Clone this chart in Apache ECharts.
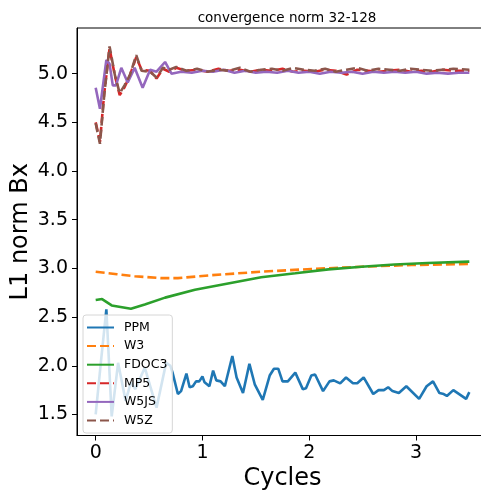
<!DOCTYPE html>
<html>
<head>
<meta charset="utf-8">
<script src="https://cdn.jsdelivr.net/npm/echarts@6/dist/echarts.min.js"></script>
<style>
  html, body { margin: 0; padding: 0; background: #fff; }
  #chart { width: 481px; height: 493px; }
</style>
</head>
<body>
<div id="chart"></div>
<script>
// values, [cycles, L1 norm]
const ppm = [
  [0, 1.50], [0.05, 2.05], [0.10, 2.58], [0.15, 1.48], [0.21, 2.03], [0.28, 1.64],
  [0.33, 1.83], [0.37, 1.76], [0.46, 1.98], [0.57, 1.57], [0.66, 2.03], [0.70, 2.0],
  [0.72, 1.93], [0.77, 1.71], [0.80, 1.74], [0.85, 1.92], [0.88, 1.78], [0.91, 1.79],
  [0.94, 1.84], [0.97, 1.84], [1.00, 1.89], [1.02, 1.83], [1.065, 1.79], [1.10, 1.95],
  [1.13, 1.85], [1.17, 1.84], [1.21, 1.79], [1.28, 2.10], [1.32, 1.88], [1.38, 1.72],
  [1.44, 2.02], [1.49, 1.81], [1.565, 1.65], [1.63, 1.90], [1.67, 1.97], [1.71, 1.97],
  [1.75, 1.84], [1.80, 1.84], [1.87, 1.93], [1.94, 1.76], [1.97, 1.77], [2.02, 1.90],
  [2.055, 1.91], [2.13, 1.74], [2.19, 1.84], [2.23, 1.85], [2.29, 1.82], [2.345, 1.88],
  [2.41, 1.82], [2.45, 1.82], [2.51, 1.88], [2.60, 1.71], [2.65, 1.75], [2.70, 1.75],
  [2.74, 1.78], [2.78, 1.74], [2.84, 1.72], [2.91, 1.79], [3.03, 1.66], [3.10, 1.79],
  [3.16, 1.84], [3.22, 1.72], [3.26, 1.71], [3.29, 1.69], [3.35, 1.75], [3.47, 1.66],
  [3.50, 1.73]
];
const w3 = [
  [0, 2.966], [0.2, 2.94], [0.365, 2.92], [0.61, 2.90], [0.77, 2.90], [1.08, 2.93],
  [1.55, 2.966], [2.02, 2.994], [2.49, 3.017], [2.96, 3.035], [3.5, 3.045]
];
const fdoc3 = [
  [0, 2.675], [0.06, 2.685], [0.15, 2.62], [0.33, 2.585], [0.46, 2.63], [0.65, 2.70],
  [0.93, 2.78], [1.24, 2.845], [1.55, 2.91], [1.87, 2.95], [2.18, 2.99], [2.49, 3.017],
  [2.80, 3.04], [3.11, 3.055], [3.5, 3.07]
];
const mp5 = [
  [0, 4.50], [0.04, 4.30], [0.08, 4.80], [0.13, 5.26], [0.18, 4.98], [0.225, 4.78],
  [0.27, 4.86], [0.32, 4.98], [0.38, 5.17], [0.43, 5.04], [0.51, 5.03], [0.57, 4.95],
  [0.63, 5.05], [0.69, 5.02], [0.755, 5.06], [0.85, 5.03], [0.95, 5.04], [1.05, 5.02],
  [1.15, 5.05], [1.25, 5.03], [1.35, 5.04], [1.45, 5.02], [1.55, 5.04], [1.65, 5.03],
  [1.75, 5.05], [1.85, 5.02], [1.95, 5.03], [2.05, 5.02], [2.15, 5.04], [2.25, 5.03],
  [2.35, 4.99], [2.45, 5.04], [2.55, 5.03], [2.65, 5.02], [2.75, 5.03], [2.85, 5.04],
  [2.95, 5.02], [3.05, 5.03], [3.15, 5.02], [3.25, 5.04], [3.35, 5.03], [3.5, 5.03]
];
const w5js = [
  [0, 4.856], [0.04, 4.64], [0.10, 5.14], [0.13, 5.10], [0.16, 4.88], [0.19, 4.88],
  [0.24, 5.06], [0.30, 4.91], [0.365, 5.06], [0.44, 4.856], [0.51, 5.04], [0.57, 5.02],
  [0.65, 5.12], [0.71, 5.00], [0.80, 5.02], [0.90, 5.01], [1.00, 5.03], [1.10, 5.02],
  [1.20, 5.04], [1.30, 5.01], [1.40, 5.03], [1.50, 5.01], [1.60, 5.02], [1.70, 5.01],
  [1.80, 5.03], [1.90, 5.01], [2.00, 5.02], [2.10, 5.00], [2.20, 5.02], [2.30, 5.01],
  [2.40, 5.02], [2.50, 5.00], [2.60, 5.02], [2.70, 5.01], [2.80, 5.02], [2.90, 5.01],
  [3.00, 5.02], [3.10, 5.00], [3.20, 5.01], [3.30, 5.00], [3.40, 5.01], [3.5, 5.01]
];
const w5z = [
  [0, 4.49], [0.04, 4.28], [0.08, 4.78], [0.13, 5.28], [0.18, 4.985], [0.225, 4.80],
  [0.27, 4.88], [0.32, 4.985], [0.38, 5.19], [0.43, 5.03], [0.51, 5.02], [0.57, 4.96],
  [0.63, 5.06], [0.69, 5.04], [0.755, 5.07], [0.85, 5.03], [0.95, 5.05], [1.05, 5.02],
  [1.15, 5.04], [1.25, 5.03], [1.35, 5.06], [1.45, 5.02], [1.55, 5.04], [1.65, 5.05],
  [1.75, 5.03], [1.85, 5.06], [1.95, 5.04], [2.05, 5.03], [2.15, 5.05], [2.25, 5.02],
  [2.35, 5.04], [2.45, 5.06], [2.55, 5.03], [2.65, 5.05], [2.75, 5.04], [2.85, 5.03],
  [2.95, 5.05], [3.05, 5.04], [3.15, 5.03], [3.25, 5.04], [3.35, 5.05], [3.5, 5.04]
];
const xTicks = [0, 1, 2, 3];
const yTicks = [1.5, 2.0, 2.5, 3.0, 3.5, 4.0, 4.5, 5.0];

const font = 'DejaVu Sans';

function line(name, data, color, dashed) {
  return {
    name: name,
    type: 'line',
    data: data,
    symbol: 'none',
    animation: false,
    lineStyle: { color: color, width: 2.6, type: dashed ? [9, 4] : 'solid' },
    itemStyle: { color: color }
  };
}

const chart = echarts.init(document.getElementById('chart'), null, { renderer: 'canvas' });
chart.setOption({
  animation: false,
  title: {
    text: 'convergence norm 32-128',
    left: 282, top: 6, textAlign: 'center',
    textStyle: { fontFamily: font, fontSize: 13.5, fontWeight: 'normal', color: '#000' }
  },
  grid: {
    left: 77, top: 28, right: -7, bottom: 57.5,
    outerBoundsMode: 'none', containLabel: false,
    show: true, borderColor: '#000', borderWidth: 1, backgroundColor: 'transparent'
  },
  legend: {
    orient: 'vertical',
    left: 83, top: 315,
    itemWidth: 27, itemHeight: 12, itemGap: 5.6,
    padding: [6, 5, 6, 3],
    backgroundColor: 'rgba(255,255,255,0.8)',
    borderColor: '#d6d6d6', borderWidth: 1, borderRadius: 3,
    itemStyle: { opacity: 0 },
    textStyle: { fontFamily: font, fontSize: 12.5, lineHeight: 12, color: '#000', padding: [0, 0, 0, 5] },
    data: ['PPM', 'W3', 'FDOC3', 'MP5', 'W5JS', 'W5Z']
  },
  xAxis: {
    type: 'value', min: -0.175, max: 3.675,
    name: 'Cycles', nameLocation: 'middle', nameGap: 31, nameMoveOverlap: false,
    nameTextStyle: { fontFamily: font, fontSize: 24, color: '#000' },
    axisLine: { onZero: false, lineStyle: { color: '#000', width: 1 } },
    axisTick: { show: true, length: 5, customValues: xTicks, lineStyle: { color: '#000' } },
    axisLabel: { customValues: xTicks, margin: 8, fontFamily: font, fontSize: 19, color: '#000' },
    splitLine: { show: false }
  },
  yAxis: {
    type: 'value', min: 1.284, max: 5.469,
    name: 'L1 norm Bx', nameLocation: 'middle', nameGap: 44, nameMoveOverlap: false,
    nameTextStyle: { fontFamily: font, fontSize: 24, color: '#000' },
    axisLine: { show: true, onZero: false, lineStyle: { color: '#000', width: 1 } },
    axisTick: { show: true, length: 5, customValues: yTicks, lineStyle: { color: '#000' } },
    axisLabel: {
      customValues: yTicks, margin: 9, fontFamily: font, fontSize: 19, color: '#000',
      formatter: v => v.toFixed(1)
    },
    splitLine: { show: false }
  },
  series: [
    line('PPM', ppm, '#1f77b4', false),
    line('W3', w3, '#ff7f0e', true),
    line('FDOC3', fdoc3, '#2ca02c', false),
    line('MP5', mp5, '#d62728', true),
    line('W5JS', w5js, '#9467bd', false),
    line('W5Z', w5z, '#8c564b', true)
  ]
});
</script>
</body>
</html>
